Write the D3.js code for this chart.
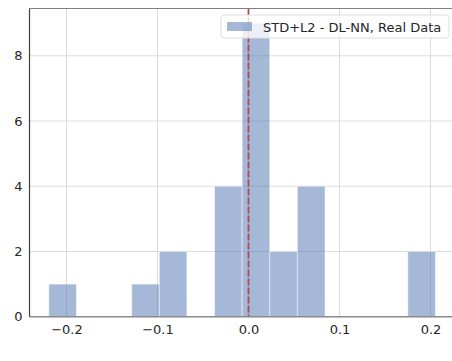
<!DOCTYPE html>
<html>
<head>
<meta charset="utf-8">
<script src="https://cdn.jsdelivr.net/npm/d3@7"></script>
<style>
body{margin:0;background:#fff;}
svg{display:block;font-family:"DejaVu Sans",sans-serif;}
</style>
</head>
<body>
<svg id="svg" width="452" height="361"></svg>
<script>
// histogram bin edges and counts
var binEdges=[-0.2194,-0.1891,-0.1587,-0.1284,-0.0980,-0.0677,-0.0373,-0.0070,0.0234,0.0537,0.0841,0.1144,0.1448,0.1751,0.2055];
var counts=[1,0,0,1,2,0,4,9,2,4,0,0,0,2];
var xTicks=[-0.2,-0.1,0.0,0.1,0.2];
var yTicks=[0,2,4,6,8];
var refLine=0.0;
var legendLabel="STD+L2 - DL-NN, Real Data";

var bins=counts.map(function(c,i){return {x0:binEdges[i],x1:binEdges[i+1],count:c};});

var svg=d3.select("#svg");
var plot={left:29.5,top:8.5,bottom:316.7};

var span=binEdges[binEdges.length-1]-binEdges[0];
var xscale=d3.scaleLinear()
.domain([binEdges[0]-span*0.05,binEdges[binEdges.length-1]+span*0.05])
.range([plot.left,plot.left+910*span*1.1]);

var ymax=d3.max(counts)*1.05;
var yscale=d3.scaleLinear().domain([0,ymax]).range([plot.bottom,plot.top]);

var x0=xscale.range()[0], x1=xscale.range()[1];

// grid
var grid=svg.append("g");
grid.selectAll("line.gx").data(xTicks).enter().append("line")
.attr("x1",function(d){return xscale(d);}).attr("x2",function(d){return xscale(d);})
.attr("y1",plot.top).attr("y2",plot.bottom)
.attr("stroke","#dcdcdc").attr("stroke-width",1);
grid.selectAll("line.gy").data(yTicks).enter().append("line")
.attr("x1",x0).attr("x2",x1)
.attr("y1",function(d){return yscale(d);}).attr("y2",function(d){return yscale(d);})
.attr("stroke","#dcdcdc").attr("stroke-width",1);

// bars
svg.append("g").selectAll("rect").data(bins.filter(function(b){return b.count>0;})).enter()
.append("rect")
.attr("x",function(d){return xscale(d.x0);})
.attr("width",function(d){return xscale(d.x1)-xscale(d.x0);})
.attr("y",function(d){return yscale(d.count);})
.attr("height",function(d){return plot.bottom-yscale(d.count);})
.attr("fill","#4c72b0").attr("fill-opacity",0.5)
.attr("stroke","#ffffff").attr("stroke-opacity",0.5).attr("stroke-width",1);

// reference line
svg.append("line")
.attr("x1",xscale(refLine)).attr("x2",xscale(refLine))
.attr("y1",plot.top).attr("y2",plot.bottom)
.attr("stroke","#b8474b").attr("stroke-width",1.8).attr("stroke-dasharray","7,2");

// axes
var xaxis=svg.append("g").attr("transform","translate(0,"+plot.bottom+")")
.call(d3.axisBottom(xscale).tickValues(xTicks).tickSize(0).tickPadding(8)
.tickFormat(function(d){return d3.format(".1f")(d).replace("-","\u2212");}));
var yaxis=svg.append("g").attr("transform","translate("+plot.left+",0)")
.call(d3.axisLeft(yscale).tickValues(yTicks).tickSize(0).tickPadding(7).tickFormat(d3.format("d")));
[xaxis,yaxis].forEach(function(a){
  a.select(".domain").remove();
  a.selectAll("text").attr("font-size",13).attr("fill","#262626").attr("font-family","DejaVu Sans");
});

// spines
svg.append("line").attr("x1",x0).attr("x2",x1).attr("y1",plot.top).attr("y2",plot.top)
.attr("stroke","#808080").attr("stroke-width",1);
svg.append("line").attr("x1",x0).attr("x2",x1).attr("y1",plot.bottom).attr("y2",plot.bottom)
.attr("stroke","#8c8c8c").attr("stroke-width",1.5);
svg.append("line").attr("x1",plot.left).attr("x2",plot.left).attr("y1",plot.top).attr("y2",plot.bottom)
.attr("stroke","#404040").attr("stroke-width",1.2);

// legend
var lg=svg.append("g").attr("transform","translate(221,15)");
lg.append("rect").attr("width",228).attr("height",23).attr("rx",3)
.attr("fill","#ffffff").attr("fill-opacity",0.8).attr("stroke","#dddddd");
lg.append("rect").attr("x",6).attr("y",7).attr("width",25).attr("height",9)
.attr("fill","#4c72b0").attr("fill-opacity",0.5);
lg.append("text").attr("x",42).attr("y",16.5).attr("font-size",13).attr("fill","#262626")
.text(legendLabel);
</script>
</body>
</html>
